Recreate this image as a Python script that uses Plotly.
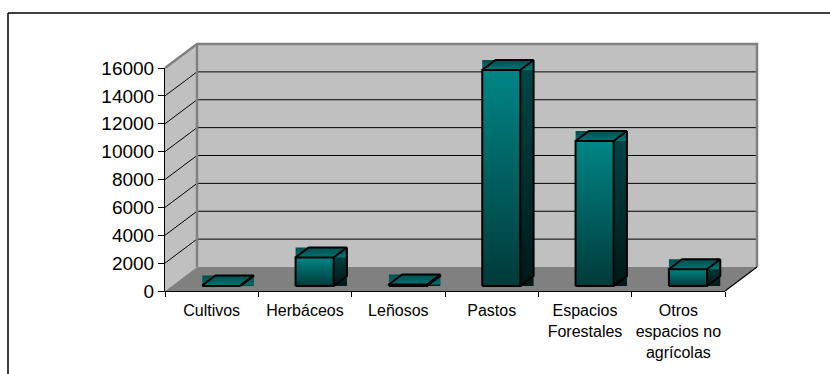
import plotly.graph_objects as go

# ---------------- data ----------------
categories = ["Cultivos", "Herbáceos", "Leñosos", "Pastos",
              "Espacios Forestales", "Otros espacios no agrícolas"]
tick_labels = ["Cultivos", "Herbáceos", "Leñosos", "Pastos",
               "Espacios<br>Forestales", "Otros<br>espacios no<br>agrícolas"]
values = [40, 2050, 110, 15500, 10400, 1200]
y_ticks = [0, 2000, 4000, 6000, 8000, 10000, 12000, 14000, 16000]
y_tick_labels = [str(v) for v in y_ticks]

# ---------------- layout constants (pixels) ----------------
W, H = 830, 374
FX0, FX1 = 165, 725          # front plane x extent
FY0, FY1 = 291, 68           # front plane y for 0 and for YMAX
YMAX = y_ticks[-1]
N = len(categories)
DEPTH_PX_X, DEPTH_PX_Y = 32, 24

px_per_cat = (FX1 - FX0) / N
px_per_val = (FY0 - FY1) / YMAX
x_range = [-FX0 / px_per_cat, (W - FX0) / px_per_cat]
y_range = [-(H - FY0) / px_per_val, FY0 / px_per_val]
DX = DEPTH_PX_X / px_per_cat
DY = DEPTH_PX_Y / px_per_val

BAR_L, BAR_R = 0.327, 0.735   # bar extent within category (front plane)
D0, D1 = 0.21, 0.625          # bar depth extent (fraction of floor depth)

FONT = "Arial, Liberation Sans, sans-serif"
WALL = "#c0c0c0"
FLOOR = "#808080"
EDGE = "#808080"

traces = []


def fillpoly(xs, ys, color=None, grad=None):
    kw = dict(x=list(xs) + [xs[0]], y=list(ys) + [ys[0]], mode="none",
              fill="toself", hoverinfo="skip", showlegend=False,
              xaxis="x", yaxis="y")
    if grad is not None:
        kw["fillgradient"] = dict(type="vertical",
                                  colorscale=[[0, grad[0]], [1, grad[1]]])
    else:
        kw["fillcolor"] = color
    traces.append(go.Scatter(**kw))


def lines(segs, color, width):
    xs, ys = [], []
    for seg in segs:
        for (a, b) in seg:
            xs.append(a)
            ys.append(b)
        xs.append(None)
        ys.append(None)
    traces.append(go.Scatter(x=xs, y=ys, mode="lines",
                             line=dict(color=color, width=width),
                             hoverinfo="skip", showlegend=False,
                             xaxis="x", yaxis="y"))


# walls and floor
fillpoly([0, 0, DX, DX], [0, YMAX, YMAX + DY, DY], WALL)
fillpoly([DX, DX, N + DX, N + DX], [DY, YMAX + DY, YMAX + DY, DY], WALL)
fillpoly([0, N, N + DX, DX], [0, 0, DY, DY], FLOOR)

# gridlines on back wall and left wall
grid_back = [[(DX, v + DY), (N + DX, v + DY)] for v in y_ticks[1:-1]]
grid_side = [[(0, v), (DX, v + DY)] for v in y_ticks[1:-1]]
lines(grid_back + grid_side, "black", 1)

# wall borders
lines([[(0, YMAX), (DX, YMAX + DY), (N + DX, YMAX + DY), (N + DX, DY)],
       [(DX, YMAX + DY), (DX, DY)]], EDGE, 2.5)
# floor right edge
lines([[(N, 0), (N + DX, DY)]], "black", 1.2)

# bars
a, A = D0 * DX, D0 * DY
b, B = D1 * DX, D1 * DY
outline = []
for i, v in enumerate(values):
    xl, xr = i + BAR_L, i + BAR_R
    # side bounding rect
    fillpoly([xr + a, xr + b, xr + b, xr + a], [A, A, v + B, v + B],
             grad=("#001818", "#004848"))
    # top bounding rect
    fillpoly([xl + a, xr + b, xr + b, xl + a], [v + A, v + A, v + B, v + B],
             grad=("#007272", "#004e4e"))
    # front face
    fillpoly([xl + a, xr + a, xr + a, xl + a], [A, A, v + A, v + A],
             grad=("#003a3a", "#008585"))
    outline.append([(xl + a, A), (xr + a, A), (xr + a, v + A), (xl + a, v + A), (xl + a, A)])
    outline.append([(xl + a, v + A), (xl + b, v + B), (xr + b, v + B), (xr + a, v + A)])
    outline.append([(xr + b, v + B), (xr + b, B), (xr + a, A)])
lines(outline, "black", 2)

# invisible trace carrying the values on the visible axes
traces.append(go.Scatter(x=[i + 0.5 for i in range(N)], y=values, mode="markers",
                         marker=dict(opacity=0), hoverinfo="skip",
                         showlegend=False, xaxis="x2", yaxis="y2"))

fig = go.Figure(traces)
fig.update_layout(
    width=W, height=H, autosize=False,
    margin=dict(l=0, r=0, t=0, b=0, pad=0, autoexpand=False),
    paper_bgcolor="white", plot_bgcolor="rgba(0,0,0,0)",
    font=dict(family=FONT, color="black"),
    showlegend=False,
    xaxis=dict(domain=[0, 1], range=x_range, visible=False, fixedrange=True,
               automargin=False),
    yaxis=dict(domain=[0, 1], range=y_range, visible=False, fixedrange=True,
               automargin=False),
    xaxis2=dict(domain=[FX0 / W, FX1 / W], range=[0, N], anchor="y2",
                automargin=False,
                tickmode="array", tickvals=[i + 0.5 for i in range(N)],
                ticktext=tick_labels, ticks="outside", ticklen=5,
                tickcolor="rgba(0,0,0,0)", tickfont=dict(size=16, family=FONT),
                showline=True, linecolor="black", linewidth=1,
                showgrid=False, zeroline=False, fixedrange=True,
                minor=dict(ticks="outside", ticklen=5, tickcolor="black",
                           tick0=0, dtick=1, showgrid=False)),
    yaxis2=dict(domain=[(H - FY0) / H, (H - FY1) / H], range=[0, YMAX],
                anchor="x2", automargin=False,
                tickmode="array", tickvals=y_ticks,
                ticktext=y_tick_labels,
                ticks="outside", ticklen=6, tickcolor="black",
                tickfont=dict(size=19, family=FONT),
                showline=True, linecolor="black", linewidth=1,
                showgrid=False, zeroline=False, fixedrange=True),
    shapes=[
        dict(type="line", xref="paper", yref="paper", x0=8 / W, x1=1,
             y0=1 - 13 / H, y1=1 - 13 / H, line=dict(color="black", width=1.5)),
        dict(type="line", xref="paper", yref="paper", x0=8 / W, x1=8 / W,
             y0=0, y1=1 - 13 / H, line=dict(color="black", width=1.5)),
    ],
)
fig.write_html("out.html", config={"responsive": False},
               default_width="830px", default_height="374px")
